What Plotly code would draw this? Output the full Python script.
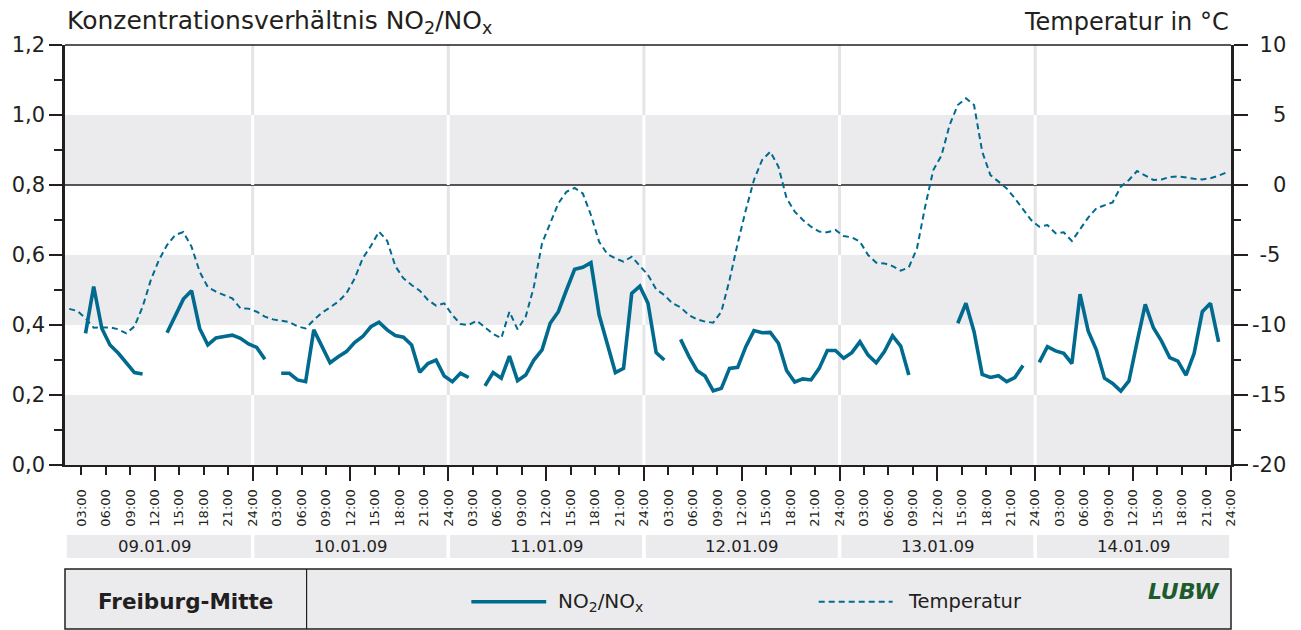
import numpy as np
import plotly.graph_objects as go

# ---------------- data ----------------
days = ["09.01.09", "10.01.09", "11.01.09", "12.01.09", "13.01.09", "14.01.09"]
hour_tick_labels = ["03:00", "06:00", "09:00", "12:00", "15:00", "18:00", "21:00", "24:00"]
station = "Freiburg-Mitte"

# hourly means NO2/NOx ratio (hour 1 .. 144), None = missing
no2_ratio = [
    None, None, None, 0.376, 0.51, 0.39, 0.343, 0.32, 0.29, 0.264, 0.26, None,
    None, 0.378, 0.424, 0.474, 0.498, 0.39, 0.343, 0.363, 0.367, 0.371, 0.362, 0.346,
    0.336, 0.302, None, 0.262, 0.262, 0.243, 0.238, 0.386, 0.338, 0.292, 0.309, 0.324,
    0.35, 0.367, 0.395, 0.408, 0.386, 0.37, 0.365, 0.343, 0.265, 0.29, 0.30, 0.254,
    0.238, 0.262, 0.25, None, 0.226, 0.264, 0.248, 0.311, 0.241, 0.257, 0.30, 0.329,
    0.405, 0.438, 0.50, 0.559, 0.565, 0.578, 0.429, 0.343, 0.264, 0.276, 0.49, 0.511,
    0.462, 0.321, 0.30, None, 0.359, 0.311, 0.27, 0.254, 0.212, 0.219, 0.276, 0.279,
    0.338, 0.384, 0.378, 0.379, 0.348, 0.27, 0.237, 0.246, 0.243, 0.276, 0.327, 0.327,
    0.305, 0.321, 0.352, 0.314, 0.292, 0.324, 0.369, 0.34, 0.257, None, None, None,
    None, None, 0.405, 0.462, 0.381, 0.259, 0.25, 0.255, 0.238, 0.25, 0.284, None,
    0.293, 0.338, 0.326, 0.319, 0.29, 0.488, 0.383, 0.329, 0.248, 0.233, 0.211, 0.24,
    0.352, 0.459, 0.392, 0.354, 0.307, 0.297, 0.257, 0.319, 0.438, 0.462, 0.352, None,
]

# hourly mean temperature in degC (hour 1 .. 144)
temperature = [
    None, -8.85, -9.0, -9.52, -10.19, -10.17, -10.17, -10.3, -10.6, -10.1, -8.7, -6.8,
    -5.36, -4.29, -3.57, -3.36, -4.4, -6.19, -7.3, -7.62, -7.86, -8.1, -8.81, -8.83,
    -9.05, -9.4, -9.6, -9.69, -9.79, -10.1, -10.24, -9.64, -9.12, -8.74, -8.33, -7.74,
    -6.7, -5.24, -4.36, -3.33, -3.98, -5.79, -6.67, -7.14, -7.55, -8.21, -8.62, -8.45,
    -9.29, -9.93, -10.0, -9.69, -10.17, -10.64, -10.95, -9.05, -10.31, -9.4, -7.26, -4.17,
    -2.74, -1.31, -0.48, -0.21, -0.6, -2.14, -4.05, -4.93, -5.24, -5.48, -5.12, -5.79,
    -6.43, -7.45, -7.86, -8.45, -8.74, -9.29, -9.6, -9.76, -9.83, -9.05, -6.79, -4.17,
    -1.79, 0.36, 1.79, 2.38, 1.31, -0.95, -1.9, -2.5, -2.98, -3.33, -3.38, -3.21,
    -3.64, -3.74, -4.05, -5.0, -5.55, -5.6, -5.79, -6.12, -5.88, -4.52, -1.55, 1.07,
    2.1, 4.29, 5.71, 6.19, 5.71, 2.38, 0.71, 0.24, -0.24, -0.95, -1.71, -2.5,
    -2.98, -2.86, -3.45, -3.38, -4.0, -3.14, -2.33, -1.67, -1.43, -1.24, -0.12, 0.36,
    1.0, 0.67, 0.36, 0.4, 0.57, 0.62, 0.52, 0.45, 0.4, 0.48, 0.67, 0.9,
]

ratio_ticks = [0.0, 0.2, 0.4, 0.6, 0.8, 1.0, 1.2]
temp_ticks = [-20, -15, -10, -5, 0, 5, 10]

# ---------------- style ----------------
LINE = "#006a8f"
DARK = "#231f20"
GREY = "#ebebee"
GRID_LIGHT = "#e4e4e6"
FONT = "DejaVu Sans, Liberation Sans, sans-serif"

hours = np.arange(len(no2_ratio)) + 0.5          # hourly means centred in the hour
n_days = len(days)
x_end = 24 * n_days
x_range = [0.98, x_end + 0.02]

fig = go.Figure()
fig.add_trace(go.Scatter(x=hours, y=no2_ratio, mode="lines", name="NO2/NOx",
                         line=dict(color=LINE, width=3.6), connectgaps=False,
                         xaxis="x", yaxis="y", showlegend=False))
fig.add_trace(go.Scatter(x=hours, y=temperature, mode="lines", name="Temperatur",
                         line=dict(color=LINE, width=2, dash="6px,4px"), connectgaps=False,
                         xaxis="x", yaxis="y2", showlegend=False))
# carrier trace for the long 12h/24h tick axis
fig.add_trace(go.Scatter(x=[None], y=[None], xaxis="x2", yaxis="y", showlegend=False,
                         hoverinfo="skip"))

shapes = []
# light vertical day separators (visible in white bands)
for d in range(1, n_days):
    shapes.append(dict(type="line", xref="x", yref="paper", x0=24 * d, x1=24 * d, y0=0, y1=1,
                       line=dict(color=GRID_LIGHT, width=3), layer="below"))
# grey bands
bands = [(0.0, 0.2), (0.4, 0.6), (0.8, 1.0)]
for lo, hi in bands:
    shapes.append(dict(type="rect", xref="paper", yref="y", x0=0, x1=1, y0=lo, y1=hi,
                       fillcolor=GREY, line=dict(width=0), layer="below"))
    for d in range(1, n_days):
        shapes.append(dict(type="line", xref="x", yref="y", x0=24 * d, x1=24 * d, y0=lo, y1=hi,
                           line=dict(color="white", width=3), layer="below"))
# top border
shapes.append(dict(type="line", xref="paper", yref="paper", x0=0, x1=1, y0=1, y1=1,
                   line=dict(color=DARK, width=1.3)))
# 0 degC line
shapes.append(dict(type="line", xref="paper", yref="y2", x0=0, x1=1, y0=0, y1=0,
                   line=dict(color=DARK, width=1.3), layer="below"))

# date band
gap = 0.22
for i, d in enumerate(days):
    shapes.append(dict(type="rect", xref="x", yref="paper",
                       x0=max(24 * i, x_range[0]) + gap, x1=24 * (i + 1) - gap,
                       y0=-0.2214, y1=-0.1667, fillcolor=GREY, line=dict(width=0)))

# bottom info box
box_y0, box_y1 = -0.3905, -0.2476
shapes.append(dict(type="rect", xref="paper", yref="paper", x0=0, x1=1, y0=box_y0, y1=box_y1,
                   fillcolor=GREY, line=dict(color=DARK, width=1.5)))
shapes.append(dict(type="line", xref="paper", yref="paper", x0=0.2072, x1=0.2072,
                   y0=box_y0, y1=box_y1, line=dict(color=DARK, width=1.2)))
legend_y = -0.3255
shapes.append(dict(type="line", xref="paper", yref="paper", x0=0.3485, x1=0.4127,
                   y0=legend_y, y1=legend_y, line=dict(color=LINE, width=3.6)))
shapes.append(dict(type="line", xref="paper", yref="paper", x0=0.6464, x1=0.7098,
                   y0=legend_y, y1=legend_y, line=dict(color=LINE, width=2, dash="6px,4px")))

annotations = []
annotations.append(dict(text="Konzentrationsverhältnis NO<sub>2</sub>/NO<sub>x</sub>",
                        xref="paper", yref="paper", x=0.0, y=1.055, xanchor="left",
                        yanchor="middle", showarrow=False, font=dict(size=25, color=DARK)))
annotations.append(dict(text="Temperatur in °C", xref="paper", yref="paper", x=1.0, y=1.055,
                        xanchor="right", yanchor="middle", showarrow=False,
                        font=dict(size=24, color=DARK)))
for i, d in enumerate(days):
    annotations.append(dict(text=d, xref="x", yref="paper", x=24 * i + 12, y=-0.1940,
                            xanchor="center", yanchor="middle", showarrow=False,
                            font=dict(size=16.5, color=DARK)))
annotations.append(dict(text="<b>" + station + "</b>", xref="paper", yref="paper", x=0.1036,
                        y=legend_y, xanchor="center", yanchor="middle", showarrow=False,
                        font=dict(size=21.5, color=DARK)))
annotations.append(dict(text="NO<sub>2</sub>/NO<sub>x</sub>", xref="paper", yref="paper",
                        x=0.4212, y=legend_y, xanchor="left", yanchor="middle", showarrow=False,
                        font=dict(size=20, color=DARK)))
annotations.append(dict(text="Temperatur", xref="paper", yref="paper",
                        x=0.7209, y=legend_y, xanchor="left", yanchor="middle", showarrow=False,
                        font=dict(size=19.5, color=DARK)))
annotations.append(dict(text="<b><i>LUBW</i></b>", xref="paper", yref="paper",
                        x=0.9923, y=-0.3017, xanchor="right", yanchor="middle", showarrow=False,
                        font=dict(size=22, color="#1d5a2c")))

# right-aligned look for the right axis labels: pad with invisible characters
INVIS = "<span style='color:rgba(0,0,0,0)'>{}</span>"
widest = max(len(str(t)) for t in temp_ticks)
temp_ticktext = []
for t in temp_ticks:
    s = str(t)
    pad = "-20"[: widest - len(s)] if len(s) < widest else ""
    temp_ticktext.append((INVIS.format(pad) if pad else "") + s)

x_tickvals = [3 * k for k in range(1, 8 * n_days + 1)]
x_ticktext = hour_tick_labels * n_days

fig.update_layout(
    width=1301, height=630, autosize=False,
    margin=dict(l=63, r=70, t=45, b=165, pad=0),
    paper_bgcolor="white", plot_bgcolor="white",
    font=dict(family=FONT, color=DARK),
    showlegend=False,
    xaxis=dict(range=x_range, tickmode="array", tickvals=x_tickvals, ticktext=x_ticktext,
               tickangle=-90, ticks="outside", ticklen=8, tickwidth=2, tickcolor=DARK,
               ticklabelstandoff=9,
               showline=True, linecolor=DARK, linewidth=2, showgrid=False, zeroline=False,
               tickfont=dict(size=13, color=DARK), anchor="y"),
    xaxis2=dict(range=x_range, overlaying="x", anchor="y", side="bottom",
                tickmode="array", tickvals=list(range(12, x_end + 1, 12)),
                ticks="outside", ticklen=15, tickwidth=2, tickcolor=DARK,
                showticklabels=False, showline=False, showgrid=False, zeroline=False),
    yaxis=dict(range=[0, 1.2], tickmode="array", tickvals=ratio_ticks,
               ticktext=[f"{v:.1f}".replace(".", ",") for v in ratio_ticks],
               ticks="outside", ticklen=13, tickwidth=2, tickcolor=DARK,
               minor=dict(tickmode="array", tickvals=[0.1, 0.3, 0.5, 0.7, 0.9, 1.1],
                          ticks="outside", ticklen=8, tickwidth=2, tickcolor=DARK, showgrid=False),
               showline=True, linecolor=DARK, linewidth=2.5, showgrid=False, zeroline=False,
               tickfont=dict(size=21, color=DARK), anchor="x"),
    yaxis2=dict(range=[-20, 10], overlaying="y", side="right", anchor="x",
                tickmode="array", tickvals=temp_ticks, ticktext=temp_ticktext,
                ticks="outside", ticklen=14, tickwidth=2, tickcolor=DARK,
                minor=dict(tickmode="array", tickvals=[-17.5, -12.5, -7.5, -2.5, 2.5, 7.5],
                           ticks="outside", ticklen=7, tickwidth=2, tickcolor=DARK, showgrid=False),
                showline=True, linecolor=DARK, linewidth=2.5, showgrid=False, zeroline=False,
                tickfont=dict(size=21, color=DARK)),
    shapes=shapes,
    annotations=annotations,
)

fig.write_html("out.html", config={"displayModeBar": False},
               post_script="document.body.style.margin='0';document.body.style.overflow='hidden';")
